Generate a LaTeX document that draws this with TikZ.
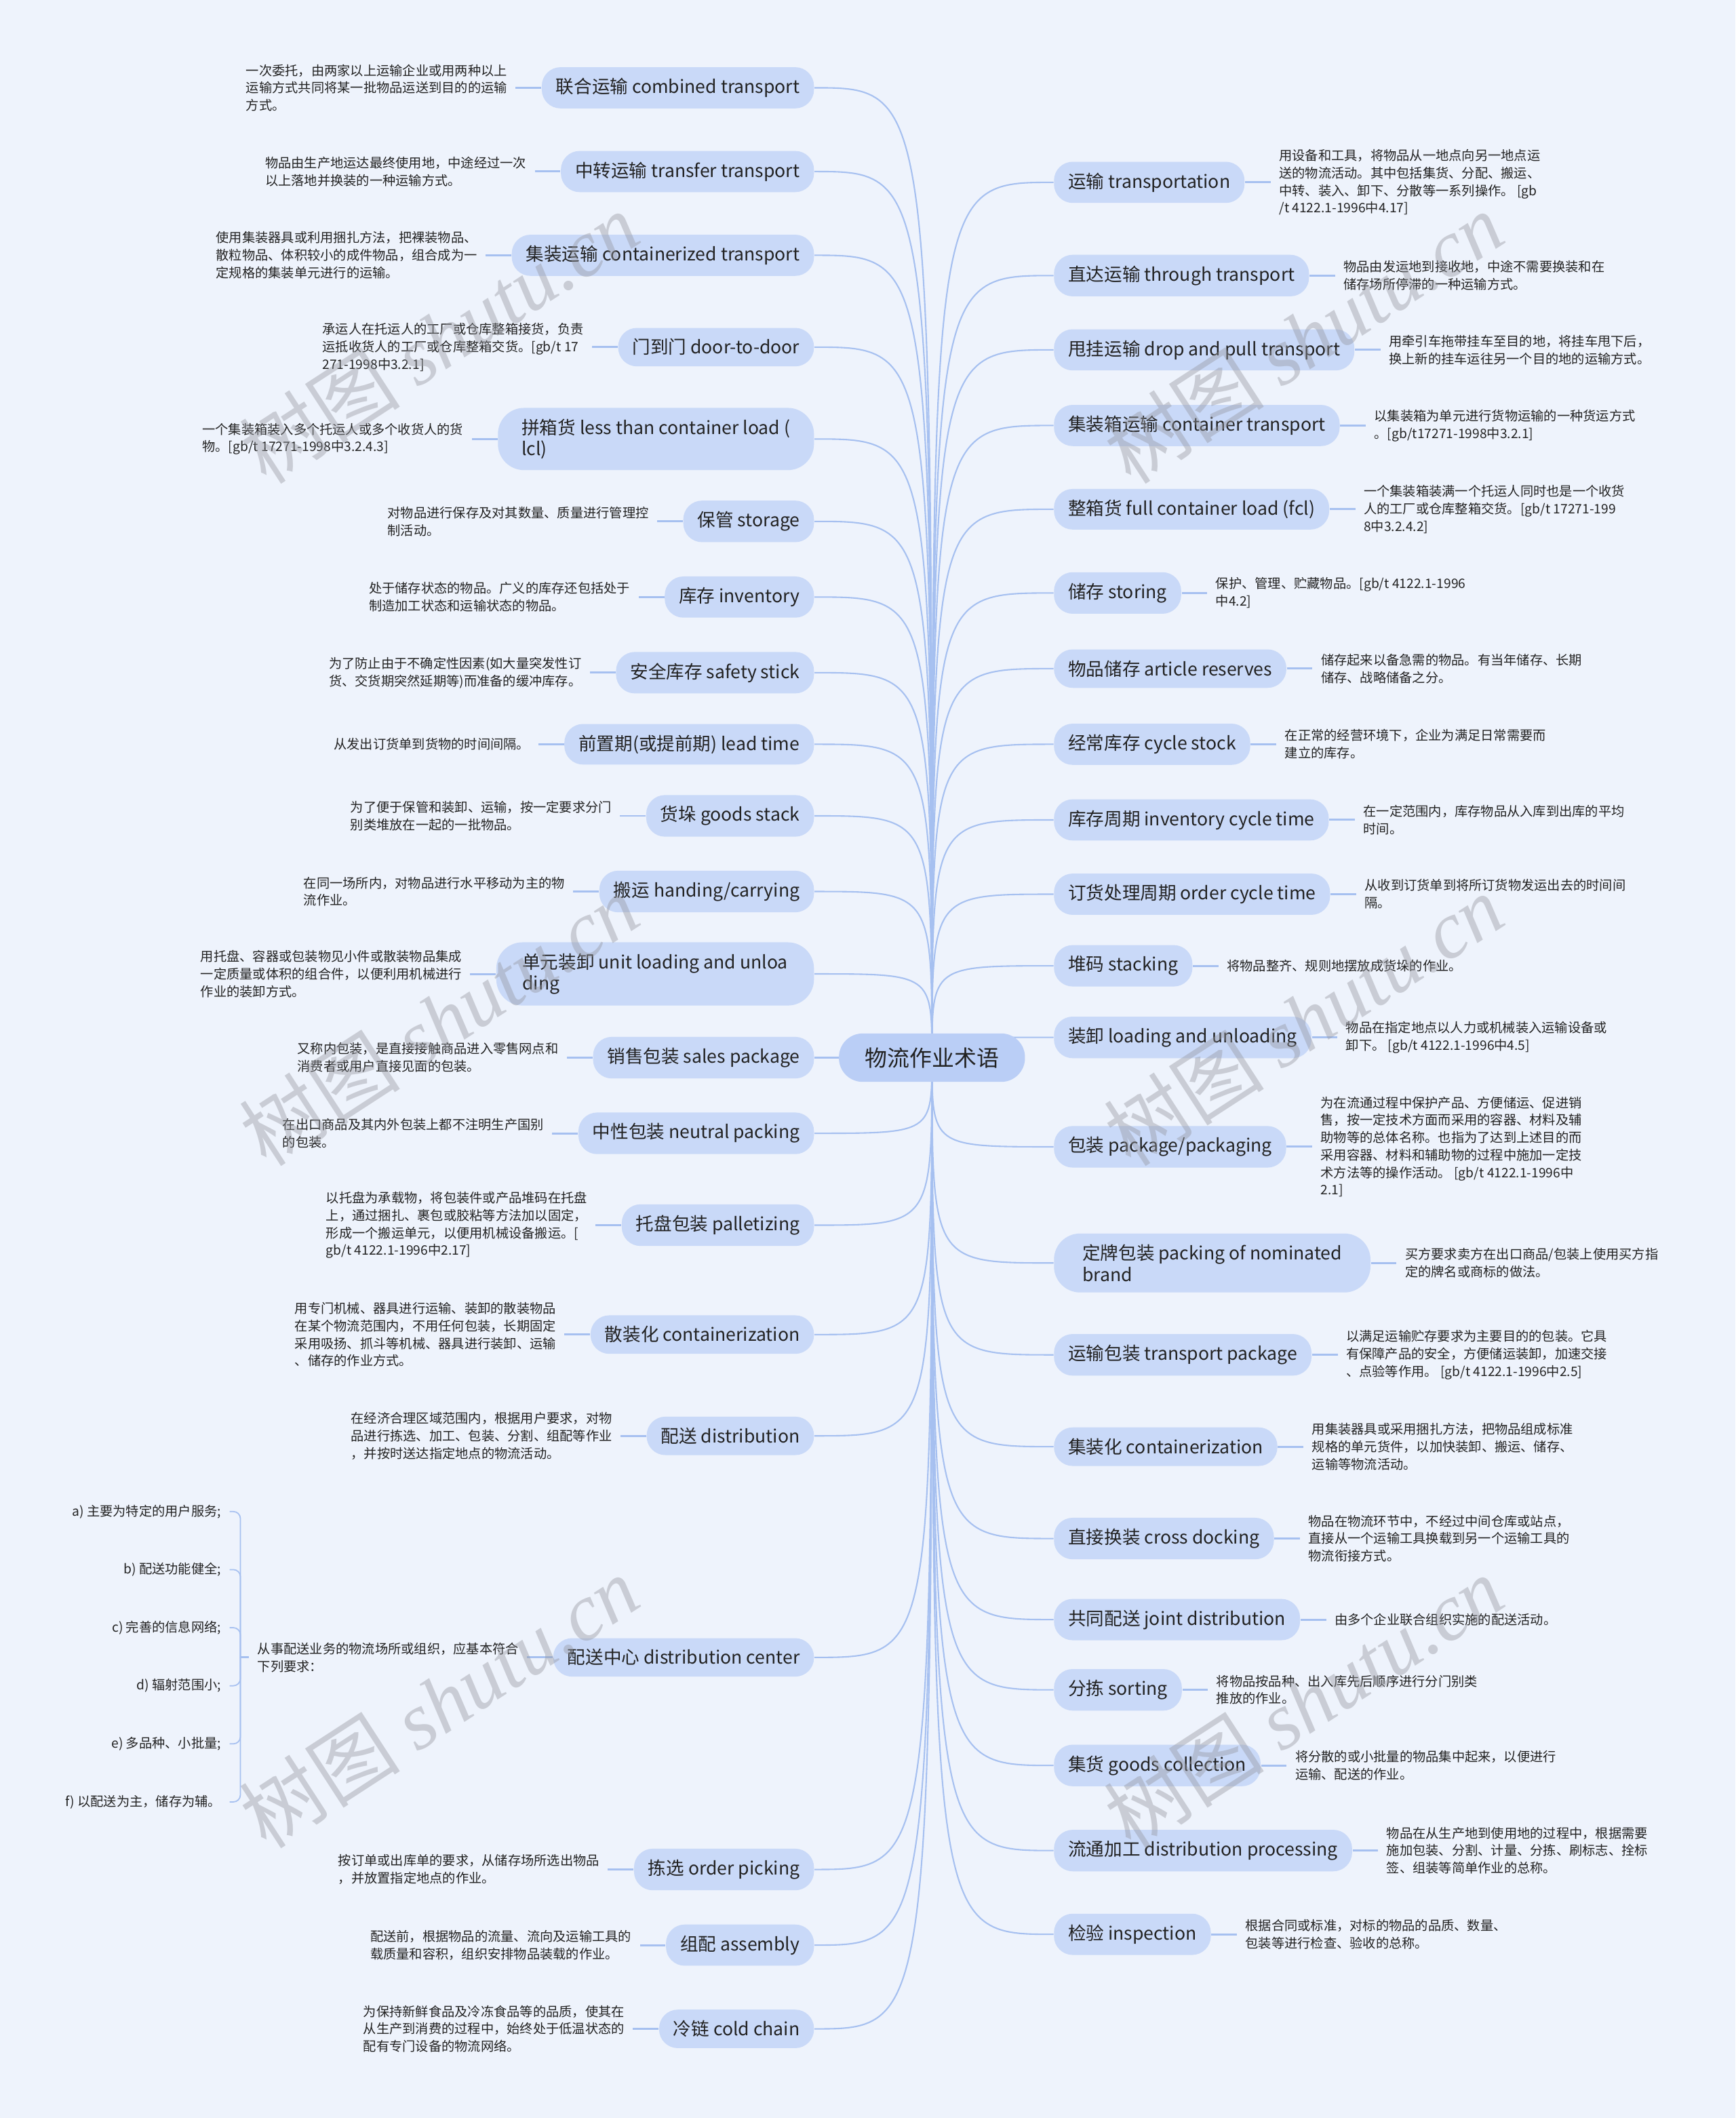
\documentclass[tikz,border=0pt]{standalone}
\usepackage{fontspec}
\setmainfont{Noto Sans CJK SC}
\newfontfamily\wmlatin{Liberation Serif}
\definecolor{bgc}{RGB}{238,243,252}
\definecolor{boxc}{RGB}{201,217,248}
\definecolor{cbox}{RGB}{186,206,246}
\definecolor{linec}{RGB}{166,192,240}
\definecolor{txt}{RGB}{34,34,34}
\definecolor{wmc}{RGB}{150,152,160}
\pgfdeclarelayer{bgl}
\pgfdeclarelayer{lnk}
\pgfsetlayers{bgl,lnk,main}
\tikzset{
 mainbox/.style={fill=boxc,rounded corners=7.9pt,minimum height=15.9pt,inner xsep=6pt,inner ysep=4.6pt,font=\fontsize{7.6}{9.1}\selectfont,align=left,text=txt},
 centerbox/.style={fill=cbox,rounded corners=10pt,minimum height=20.4pt,inner xsep=11pt,font=\fontsize{9.4}{11}\selectfont,text=txt},
 desc/.style={font=\fontsize{5.5}{7.37}\selectfont,align=left,inner xsep=3.4pt,inner ysep=0pt,text=txt},
 leaf/.style={draw=linec,line width=0.85pt},
 branch/.style={draw=linec,line width=0.6pt},
 brk/.style={draw=linec,line width=0.5pt,rounded corners=3pt},
 wm/.style={text=wmc,opacity=0.42,rotate=33,font=\fontsize{34}{34}\selectfont}
}
\newcommand\mmL[5][]{%
 \node[mainbox,anchor=east,#1] (#2) at (603,#3) {#4};
 \node[desc,anchor=east] (#2d) at ([xshift=-10.8pt]#2.west) {#5};
 \draw[leaf] (#2.west) -- (#2d.east);
 \begin{pgfonlayer}{lnk}\draw[branch] (c.center) .. controls (690,#3) .. (#2.east);\end{pgfonlayer}%
}
\newcommand\mmR[5][]{%
 \node[mainbox,anchor=west,#1] (#2) at (780,#3) {#4};
 \node[desc,anchor=west] (#2d) at ([xshift=10.8pt]#2.east) {#5};
 \draw[leaf] (#2.east) -- (#2d.west);
 \begin{pgfonlayer}{lnk}\draw[branch] (c.center) .. controls (690,#3) .. (#2.west);\end{pgfonlayer}%
}
\begin{document}
\begin{tikzpicture}[x=0.02cm,y=-0.02cm]
\begin{pgfonlayer}{bgl}
\fill[bgc] (0,0) rectangle (1285,1568);
\end{pgfonlayer}
\useasboundingbox (0,0) rectangle (1285,1568);
\node[centerbox] (c) at (690,783) {物流作业术语};
% left side
\mmL{L1}{65}{联合运输 combined transport}{一次委托，由两家以上运输企业或用两种以上\\运输方式共同将某一批物品运送到目的的运输\\方式。}
\mmL{L2}{127}{中转运输 transfer transport}{物品由生产地运达最终使用地，中途经过一次\\以上落地并换装的一种运输方式。}
\mmL{L3}{189}{集装运输 containerized transport}{使用集装器具或利用捆扎方法，把裸装物品、\\散粒物品、体积较小的成件物品，组合成为一\\定规格的集装单元进行的运输。}
\mmL{L4}{257}{门到门 door-to-door}{承运人在托运人的工厂或仓库整箱接货，负责\\运抵收货人的工厂或仓库整箱交货。[gb/t 17\\271-1998中3.2.1]}
\mmL[rounded corners=11pt,inner xsep=10pt]{L5}{325}{拼箱货 less than container load (\\lcl)}{一个集装箱装入多个托运人或多个收货人的货\\物。[gb/t 17271-1998中3.2.4.3]}
\mmL{L6}{386}{保管 storage}{对物品进行保存及对其数量、质量进行管理控\\制活动。}
\mmL{L7}{442}{库存 inventory}{处于储存状态的物品。广义的库存还包括处于\\制造加工状态和运输状态的物品。}
\mmL{L8}{498}{安全库存 safety stick}{为了防止由于不确定性因素(如大量突发性订\\货、交货期突然延期等)而准备的缓冲库存。}
\mmL{L9}{551}{前置期(或提前期) lead time}{从发出订货单到货物的时间间隔。}
\mmL{L10}{604}{货垛 goods stack}{为了便于保管和装卸、运输，按一定要求分门\\别类堆放在一起的一批物品。}
\mmL{L11}{660}{搬运 handing/carrying}{在同一场所内，对物品进行水平移动为主的物\\流作业。}
\mmL[rounded corners=11pt,inner xsep=11pt]{L12}{721}{单元装卸 unit loading and unloa\\ding}{用托盘、容器或包装物见小件或散装物品集成\\一定质量或体积的组合件，以便利用机械进行\\作业的装卸方式。}
\mmL{L13}{783}{销售包装 sales package}{又称内包装，是直接接触商品进入零售网点和\\消费者或用户直接见面的包装。}
\mmL{L14}{839}{中性包装 neutral packing}{在出口商品及其内外包装上都不注明生产国别\\的包装。}
\mmL{L15}{907}{托盘包装 palletizing}{以托盘为承载物，将包装件或产品堆码在托盘\\上，通过捆扎、裹包或胶粘等方法加以固定，\\形成一个搬运单元，以便用机械设备搬运。[\\gb/t 4122.1-1996中2.17]}
\mmL{L16}{988}{散装化 containerization}{用专门机械、器具进行运输、装卸的散装物品\\在某个物流范围内，不用任何包装，长期固定\\采用吸扬、抓斗等机械、器具进行装卸、运输\\、储存的作业方式。}
\mmL{L17}{1063}{配送 distribution}{在经济合理区域范围内，根据用户要求，对物\\品进行拣选、加工、包装、分割、组配等作业\\，并按时送达指定地点的物流活动。}
\mmL{L18}{1227}{配送中心 distribution center}{从事配送业务的物流场所或组织，应基本符合\\下列要求：}
\mmL{L19}{1384}{拣选 order picking}{按订单或出库单的要求，从储存场所选出物品\\，并放置指定地点的作业。}
\mmL{L20}{1440}{组配 assembly}{配送前，根据物品的流量、流向及运输工具的\\载质量和容积，组织安排物品装载的作业。}
\mmL{L21}{1502}{冷链 cold chain}{为保持新鲜食品及冷冻食品等的品质，使其在\\从生产到消费的过程中，始终处于低温状态的\\配有专门设备的物流网络。}
% distribution center requirements
\coordinate (j) at (178,1227);
\node[desc,anchor=east] (ka) at (170,1119) {a) 主要为特定的用户服务;};
\node[desc,anchor=east] (kb) at (170,1162) {b) 配送功能健全;};
\node[desc,anchor=east] (kc) at (170,1205) {c) 完善的信息网络;};
\node[desc,anchor=east] (kd) at (170,1248) {d) 辐射范围小;};
\node[desc,anchor=east] (ke) at (170,1291) {e) 多品种、小批量;};
\node[desc,anchor=east] (kf) at (170,1334) {f) 以配送为主，储存为辅。};
\draw[leaf] (L18d.west) -- (j);
\foreach \k in {ka,kb,kc,kd,ke,kf} \draw[brk] (j) |- (\k.east);
% right side
\mmR{R1}{135}{运输 transportation}{用设备和工具，将物品从一地点向另一地点运\\送的物流活动。其中包括集货、分配、搬运、\\中转、装入、卸下、分散等一系列操作。 [gb\\/t 4122.1-1996中4.17]}
\mmR{R2}{204}{直达运输 through transport}{物品由发运地到接收地，中途不需要换装和在\\储存场所停滞的一种运输方式。}
\mmR{R3}{259}{甩挂运输 drop and pull transport}{用牵引车拖带挂车至目的地，将挂车甩下后，\\换上新的挂车运往另一个目的地的运输方式。}
\mmR{R4}{315}{集装箱运输 container transport}{以集装箱为单元进行货物运输的一种货运方式\\。[gb/t17271-1998中3.2.1]}
\mmR{R5}{377}{整箱货 full container load (fcl)}{一个集装箱装满一个托运人同时也是一个收货\\人的工厂或仓库整箱交货。[gb/t 17271-199\\8中3.2.4.2]}
\mmR{R6}{439}{储存 storing}{保护、管理、贮藏物品。[gb/t 4122.1-1996\\中4.2]}
\mmR{R7}{495}{物品储存 article reserves}{储存起来以备急需的物品。有当年储存、长期\\储存、战略储备之分。}
\mmR{R8}{551}{经常库存 cycle stock}{在正常的经营环境下，企业为满足日常需要而\\建立的库存。}
\mmR{R9}{607}{库存周期 inventory cycle time}{在一定范围内，库存物品从入库到出库的平均\\时间。}
\mmR{R10}{662}{订货处理周期 order cycle time}{从收到订货单到将所订货物发运出去的时间间\\隔。}
\mmR{R11}{715}{堆码 stacking}{将物品整齐、规则地摆放成货垛的作业。}
\mmR{R12}{768}{装卸 loading and unloading}{物品在指定地点以人力或机械装入运输设备或\\卸下。 [gb/t 4122.1-1996中4.5]}
\mmR{R13}{849}{包装 package/packaging}{为在流通过程中保护产品、方便储运、促进销\\售，按一定技术方面而采用的容器、材料及辅\\助物等的总体名称。也指为了达到上述目的而\\采用容器、材料和辅助物的过程中施加一定技\\术方法等的操作活动。 [gb/t 4122.1-1996中\\2.1]}
\mmR[rounded corners=11pt,inner xsep=12pt]{R14}{935}{定牌包装 packing of nominated\\brand}{买方要求卖方在出口商品/包装上使用买方指\\定的牌名或商标的做法。}
\mmR{R15}{1003}{运输包装 transport package}{以满足运输贮存要求为主要目的的包装。它具\\有保障产品的安全，方便储运装卸，加速交接\\、点验等作用。 [gb/t 4122.1-1996中2.5]}
\mmR{R16}{1071}{集装化 containerization}{用集装器具或采用捆扎方法，把物品组成标准\\规格的单元货件，以加快装卸、搬运、储存、\\运输等物流活动。}
\mmR{R17}{1139}{直接换装 cross docking}{物品在物流环节中，不经过中间仓库或站点，\\直接从一个运输工具换载到另一个运输工具的\\物流衔接方式。}
\mmR{R18}{1199}{共同配送 joint distribution}{由多个企业联合组织实施的配送活动。}
\mmR{R19}{1251}{分拣 sorting}{将物品按品种、出入库先后顺序进行分门别类\\推放的作业。}
\mmR{R20}{1307}{集货 goods collection}{将分散的或小批量的物品集中起来，以便进行\\运输、配送的作业。}
\mmR{R21}{1370}{流通加工 distribution processing}{物品在从生产地到使用地的过程中，根据需要\\施加包装、分割、计量、分拣、刷标志、拴标\\签、组装等简单作业的总称。}
\mmR{R22}{1432}{检验 inspection}{根据合同或标准，对标的物品的品质、数量、\\包装等进行检查、验收的总称。}
% watermarks
\foreach \wx/\wy [count=\i] in {325/250,965/250,325/755,965/755,325/1260,965/1260}
  \node[wm] (w\i) at (\wx,\wy) {树图 {\wmlatin\itshape shutu.cn}};
\end{tikzpicture}
\end{document}
